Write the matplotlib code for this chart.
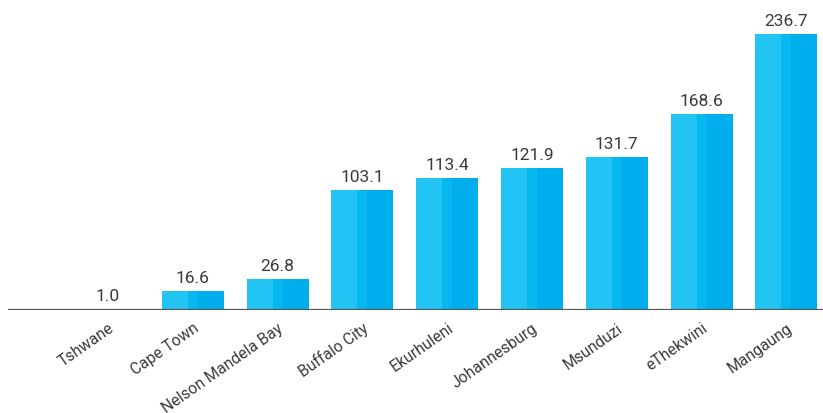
import numpy as np
import matplotlib.pyplot as plt

plt.rcParams['font.family'] = ['Roboto', 'DejaVu Sans']

cities = ["Tshwane", "Cape Town", "Nelson Mandela Bay", "Buffalo City", "Ekurhuleni",
          "Johannesburg", "Msunduzi", "eThekwini", "Mangaung"]
values = [1.0, 16.6, 26.8, 103.1, 113.4, 121.9, 131.7, 168.6, 236.7]

light = "#22C4F3"
mid = "#06B8F0"
dark = "#00AEEE"
textcol = "#3a3a3a"

fig = plt.figure(figsize=(8.23, 4.14), dpi=100)
ax = fig.add_axes([8 / 823, 103 / 414, 815 / 823, 303 / 414])

x = np.arange(len(cities))
w = 0.73
# two-tone bars: light left part, short transition, darker right part
parts = [(0.0, 0.42, light), (0.42, 0.58, mid), (0.58, 1.0, dark)]
for a, b, c in parts:
    ax.bar(x - w / 2 + w * (a + b) / 2, values, width=w * (b - a), color=c, linewidth=0)

for xi, v in zip(x, values):
    ax.text(xi, v + 5, f"{v:.1f}", ha="center", va="bottom", fontsize=12.5,
            color=textcol)

ax.set_xlim(-1.179, 8.432)
ax.set_ylim(0, 260)
ax.axhline(0, color="#555555", lw=1.6, zorder=3)

ax.set_xticks(x)
ax.set_xticklabels(cities, rotation=35, ha="right", rotation_mode="anchor",
                   fontsize=11.3, color=textcol)
ax.tick_params(axis="x", length=0, pad=7)
ax.set_yticks([])
for s in ax.spines.values():
    s.set_visible(False)

fig.savefig("out.png", dpi=100)
